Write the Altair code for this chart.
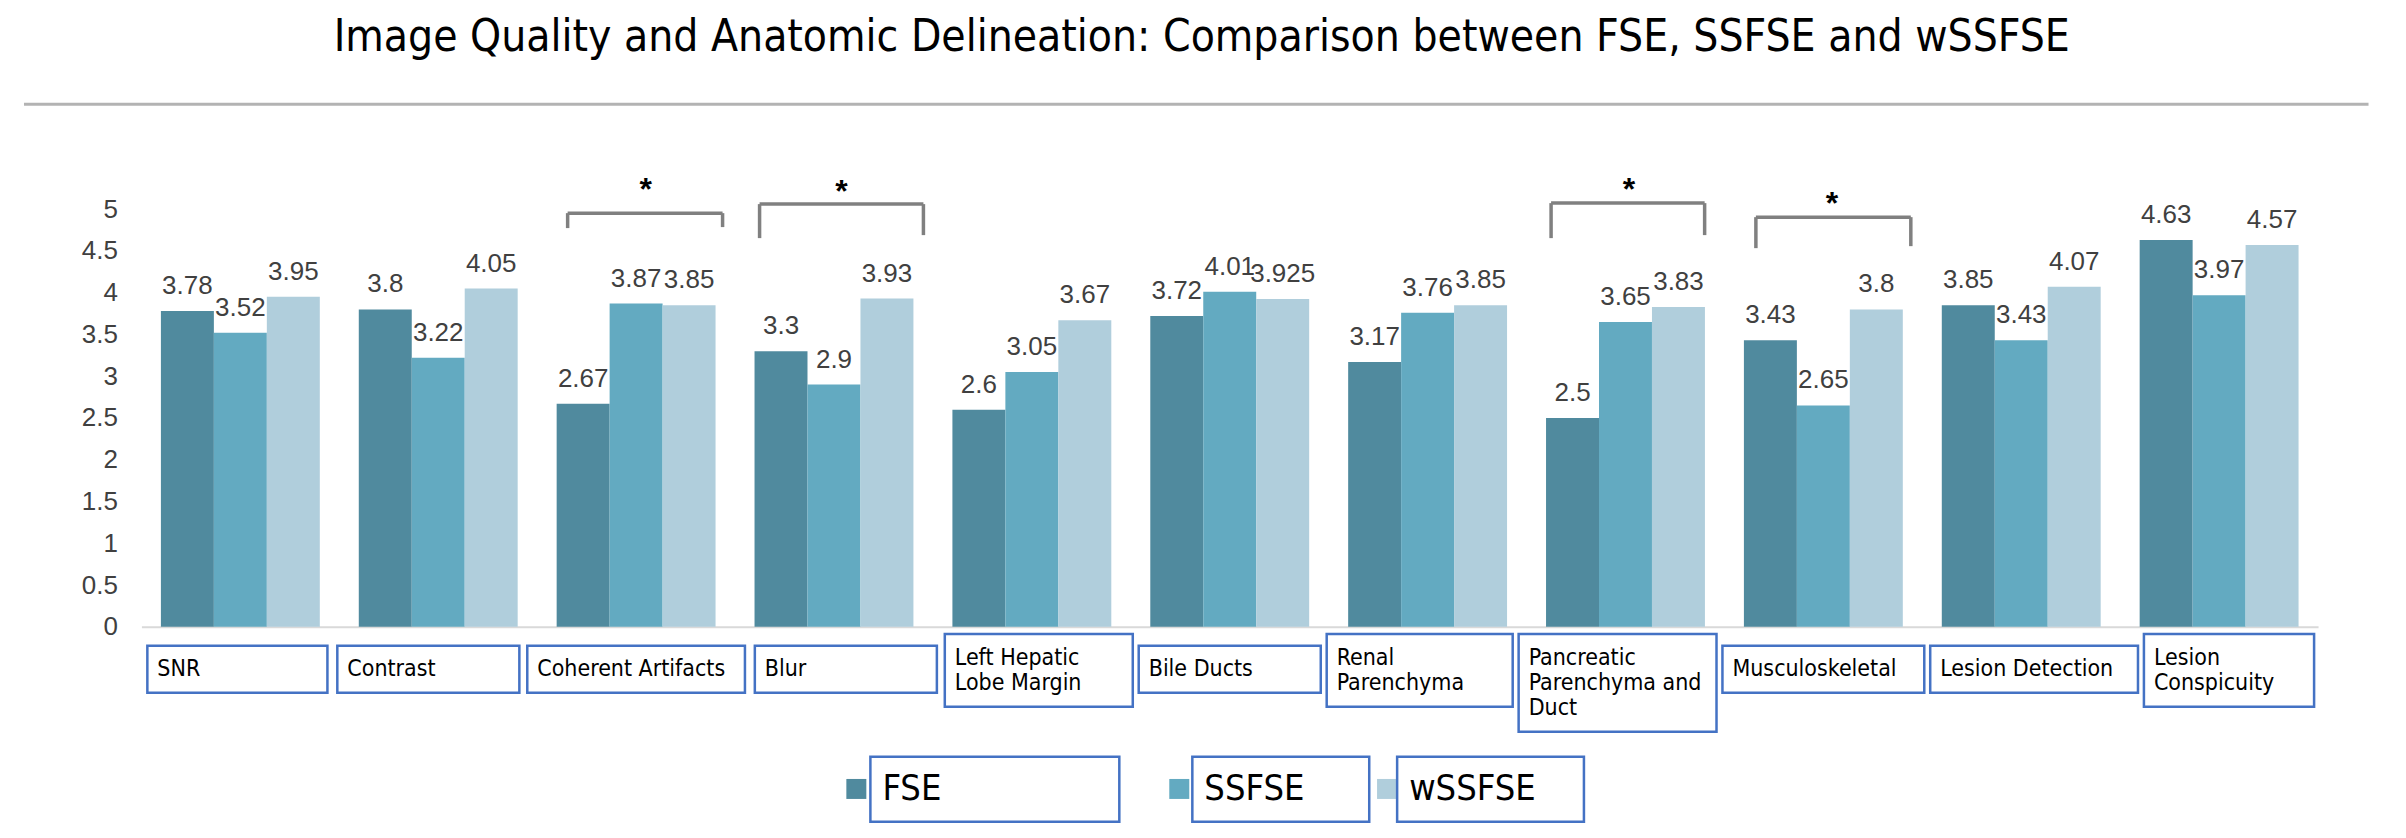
import altair as alt
import pandas as pd

# ---------------- data ----------------
categories = ["SNR", "Contrast", "Coherent Artifacts", "Blur", "Left Hepatic Lobe Margin",
              "Bile Ducts", "Renal Parenchyma", "Pancreatic Parenchyma and Duct",
              "Musculoskeletal", "Lesion Detection", "Lesion Conspicuity"]
category_labels = ["SNR", "Contrast", "Coherent Artifacts", "Blur", "Left Hepatic\nLobe Margin",
                   "Bile Ducts", "Renal\nParenchyma", "Pancreatic\nParenchyma and\nDuct",
                   "Musculoskeletal", "Lesion Detection", "Lesion\nConspicuity"]
series = ["FSE", "SSFSE", "wSSFSE"]
fse = [3.78, 3.8, 2.67, 3.3, 2.6, 3.72, 3.17, 2.5, 3.43, 3.85, 4.63]
ssfse = [3.52, 3.22, 3.87, 2.9, 3.05, 4.01, 3.76, 3.65, 2.65, 3.43, 3.97]
wssfse = [3.95, 4.05, 3.85, 3.93, 3.67, 3.925, 3.85, 3.83, 3.8, 4.07, 4.57]
fse_txt = ["3.78", "3.8", "2.67", "3.3", "2.6", "3.72", "3.17", "2.5", "3.43", "3.85", "4.63"]
ssfse_txt = ["3.52", "3.22", "3.87", "2.9", "3.05", "4.01", "3.76", "3.65", "2.65", "3.43", "3.97"]
wssfse_txt = ["3.95", "4.05", "3.85", "3.93", "3.67", "3.925", "3.85", "3.83", "3.8", "4.07", "4.57"]
y_ticks = [0, 0.5, 1, 1.5, 2, 2.5, 3, 3.5, 4, 4.5, 5]
significant = ["Coherent Artifacts", "Blur", "Pancreatic Parenchyma and Duct", "Musculoskeletal"]

colors = ["#508a9e", "#63aac1", "#b0cedc"]
TITLE = "Image Quality and Anatomic Delineation: Comparison between FSE, SSFSE and wSSFSE"

# ---------------- layout (annotation geometry, in category units / score units) ----------------
box_left = [-0.47, 0.49, 1.45, 2.60, 3.56, 4.54, 5.49, 6.46, 7.49, 8.54, 9.62]
box_right = [0.44, 1.41, 2.55, 3.52, 4.51, 5.46, 6.43, 7.46, 8.51, 9.59, 10.48]
box_top = {1: -0.227, 2: -0.084, 3: -0.084}
box_bottom = {1: -0.789, 2: -0.957, 3: -1.256}
first_line = {1: -0.508, 2: -0.371, 3: -0.371}

br_left = [1.654, 2.624, 6.624, 7.659]
br_right = [2.437, 3.452, 7.40, 8.442]
br_top = [4.952, 5.06, 5.072, 4.904]
br_bot_l = [4.773, 4.653, 4.653, 4.533]
br_bot_r = [4.785, 4.689, 4.689, 4.557]
star_x = [2.048, 3.038, 7.017, 8.043]
star_y = [5.263, 5.239, 5.263, 5.096]

leg_sq_x = [3.113, 4.745, 5.795]
leg_box_l = [3.184, 4.811, 5.846]
leg_box_r = [4.442, 5.705, 6.79]
leg_top, leg_bot, leg_mid = -1.555, -2.333, -1.94

# ---------------- tables ----------------
rows = []
for i, c in enumerate(categories):
    for s, vals, txt in zip(series, [fse, ssfse, wssfse], [fse_txt, ssfse_txt, wssfse_txt]):
        rows.append({"cat": c, "series": s, "value": vals[i], "label": txt[i]})
bars_df = pd.DataFrame(rows)

box_rows = []
for i, lab in enumerate(category_labels):
    n = lab.count("\n") + 1
    box_rows.append({"l": box_left[i], "r": box_right[i], "t": box_top[n], "b": box_bottom[n],
                     "m": first_line[n], "text": lab.split("\n")})
boxes_df = pd.DataFrame(box_rows)

seg_rows = []
for k in range(len(significant)):
    seg_rows.append({"x": br_left[k], "x2": br_right[k], "y": br_top[k], "y2": br_top[k]})
    seg_rows.append({"x": br_left[k], "x2": br_left[k], "y": br_top[k], "y2": br_bot_l[k]})
    seg_rows.append({"x": br_right[k], "x2": br_right[k], "y": br_top[k], "y2": br_bot_r[k]})
seg_df = pd.DataFrame(seg_rows)
star_df = pd.DataFrame({"x": star_x, "y": star_y, "t": ["*"] * len(star_x)})

leg_df = pd.DataFrame({"series": series, "sx": leg_sq_x, "l": leg_box_l, "r": leg_box_r,
                       "t": [leg_top] * 3, "b": [leg_bot] * 3, "m": [leg_mid] * 3})

# ---------------- scales ----------------
W, H = 2178, 418
yscale = alt.Scale(domain=[0, 5], nice=False, zero=True)
xu = alt.Scale(domain=[-0.5, 10.5], nice=False, zero=False)
cscale = alt.Scale(domain=series, range=colors)
band = alt.Scale(paddingInner=0.197, paddingOuter=0.0985)

xband = alt.X("cat:N", sort=categories, title=None, scale=band,
              axis=alt.Axis(labels=False, ticks=False, domainColor="#d9d9d9", domainWidth=2,
                            grid=False))
xoff = alt.XOffset("series:N", sort=series, scale=alt.Scale(paddingInner=0, paddingOuter=0))

bars = alt.Chart(bars_df).mark_bar().encode(
    x=xband, xOffset=xoff,
    y=alt.Y("value:Q", scale=yscale, title=None,
            axis=alt.Axis(values=y_ticks, format="~g", grid=False, ticks=False, domain=False,
                          labelFont="Liberation Sans", labelFontSize=26, labelColor="#404040",
                          labelPadding=24)),
    color=alt.Color("series:N", scale=cscale, legend=None),
)

vlabels = alt.Chart(bars_df).mark_text(font="Liberation Sans", fontSize=26, color="#404040",
                                       baseline="alphabetic", dy=-17).encode(
    x=alt.X("cat:N", sort=categories, axis=None, scale=band),
    xOffset=xoff,
    y=alt.Y("value:Q", scale=yscale),
    text="label:N",
)

segs = alt.Chart(seg_df).mark_rule(color="#808080", strokeWidth=3.5).encode(
    x=alt.X("x:Q", scale=xu, axis=None), x2="x2:Q",
    y=alt.Y("y:Q", scale=yscale), y2="y2:Q",
)
stars = alt.Chart(star_df).mark_text(font="Liberation Sans", fontSize=32, fontWeight="bold",
                                     color="#000000", baseline="alphabetic", dy=13).encode(
    x=alt.X("x:Q", scale=xu, axis=None),
    y=alt.Y("y:Q", scale=yscale),
    text="t:N",
)

LABEL_FONT = "DejaVu Sans Condensed, Liberation Sans Narrow, DejaVu Sans"
boxes = alt.Chart(boxes_df).mark_rect(fill="white", stroke="#4472c4", strokeWidth=2.5).encode(
    x=alt.X("l:Q", scale=xu, axis=None), x2="r:Q",
    y=alt.Y("t:Q", scale=yscale), y2="b:Q",
)
box_text = alt.Chart(boxes_df).mark_text(font=LABEL_FONT, fontSize=23, color="#000000",
                                         align="left", baseline="middle", dx=10,
                                         lineHeight=25).encode(
    x=alt.X("l:Q", scale=xu, axis=None),
    y=alt.Y("m:Q", scale=yscale),
    text="text",
)

leg_sq = alt.Chart(leg_df).mark_square(size=400, opacity=1).encode(
    x=alt.X("sx:Q", scale=xu, axis=None),
    y=alt.Y("m:Q", scale=yscale),
    color=alt.Color("series:N", scale=cscale, legend=None),
)
leg_box = alt.Chart(leg_df).mark_rect(fill="white", stroke="#4472c4", strokeWidth=2.5).encode(
    x=alt.X("l:Q", scale=xu, axis=None), x2="r:Q",
    y=alt.Y("t:Q", scale=yscale), y2="b:Q",
)
leg_text = alt.Chart(leg_df).mark_text(font=LABEL_FONT, fontSize=36, color="#000000",
                                       align="left", baseline="middle", dx=12).encode(
    x=alt.X("l:Q", scale=xu, axis=None),
    y=alt.Y("m:Q", scale=yscale),
    text="series:N",
)

sep = alt.Chart(pd.DataFrame({"a": [0]})).mark_rule(color="#b3b3b3", strokeWidth=3).encode(
    x=alt.value(-117.5), x2=alt.value(2228.5), y=alt.value(-105),
)

chart = alt.layer(
    sep, bars, vlabels, segs, stars, boxes, box_text, leg_sq, leg_box, leg_text
).resolve_scale(x="independent").properties(
    width=W, height=H,
    background="white",
    autosize=alt.AutoSizeParams(type="none"),
    padding={"left": 133.5, "top": 201, "right": 80, "bottom": 200},
    title=alt.TitleParams(TITLE, font=LABEL_FONT, fontSize=44, fontWeight="normal",
                          color="#000000", anchor="middle", frame="group", dx=-28, offset=43),
).configure_view(stroke=None)

chart.save("out.html", embed_options={"renderer": "svg", "actions": False})
